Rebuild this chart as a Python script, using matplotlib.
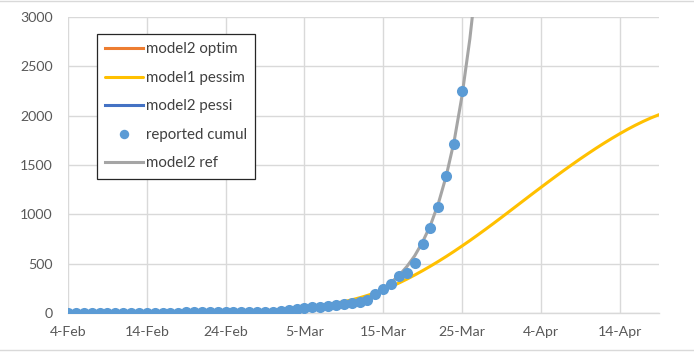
import matplotlib
matplotlib.use("Agg")
import matplotlib.pyplot as plt
import pandas as pd
from matplotlib.lines import Line2D

# ---------------- data ----------------
start_date = "2020-02-04"
end_date = "2020-04-19"

reported_cumul = [3] * 15 + [6] * 7 + [12] * 4 + [
    15, 20, 30, 45, 55, 60, 62, 70, 80, 92, 105, 115, 132, 190, 240, 291,
    375, 402, 503, 700, 865, 1071, 1392, 1710, 2250]

model1_pessim = [1, 1, 1, 1, 1, 1, 1, 1, 2, 2, 2, 2, 3, 3, 4, 4, 5, 6, 7, 8,
                 9, 11, 13, 16, 19, 23, 27, 32, 38, 45, 53, 62, 73, 85, 99,
                 115, 133, 154, 178, 205, 235, 268, 304, 343, 385, 429, 475,
                 523, 573, 625, 679, 734, 791, 849, 908, 968, 1029, 1090,
                 1151, 1212, 1272, 1332, 1391, 1449, 1506, 1562, 1616, 1669,
                 1720, 1769, 1816, 1861, 1903, 1942, 1978, 2010]

model2_ref = [1, 1, 1, 1, 1, 2, 2, 2, 2, 3, 3, 3, 4, 4, 5, 5, 6, 7, 8, 9,
              10, 11, 13, 15, 17, 20, 23, 27, 31, 36, 41, 47, 54, 62, 72, 84,
              100, 122, 150, 190, 245, 310, 380, 470, 580, 720, 890, 1110,
              1390, 1740, 2200, 2780, 3500]

model2_optim = []
model2_pessi = []

tick_labels = ["4-Feb", "14-Feb", "24-Feb", "5-Mar", "15-Mar", "25-Mar",
               "4-Apr", "14-Apr"]
y_ticks = [0, 500, 1000, 1500, 2000, 2500, 3000]

# ---------------- figure ----------------
W, H = 694, 363
fig = plt.figure(figsize=(W / 100, H / 100), dpi=100)
ax = fig.add_axes([68 / W, (H - 313) / H, (659 - 68) / W, 296 / H])

FONT = "Lato"
tick_color = "#595959"

def dates(n):
    return pd.date_range(start_date, periods=n, freq="D")

l_optim, = ax.plot(dates(len(model2_optim)), model2_optim, color="#ED7D31",
                   lw=2.2, label="model2 optim")
l_pessim, = ax.plot(dates(len(model1_pessim)), model1_pessim, color="#FFC000",
                    lw=2.2, label="model1 pessim", solid_capstyle="round")
l_pessi, = ax.plot(dates(len(model2_pessi)), model2_pessi, color="#4472C4",
                   lw=2.2, label="model2 pessi")
l_ref, = ax.plot(dates(len(model2_ref)), model2_ref, color="#A5A5A5",
                 lw=2.2, label="model2 ref")
l_rep, = ax.plot(dates(len(reported_cumul)), reported_cumul, ls="none",
                 marker="o", markersize=8.0, color="#5B9BD5",
                 markeredgewidth=0, label="reported cumul", zorder=5)

ax.set_xlim(pd.Timestamp(start_date), pd.Timestamp(end_date))
ax.set_ylim(0, 3000)

tick_pos = pd.to_datetime([t + "-2020" for t in tick_labels], format="%d-%b-%Y")
ax.set_xticks(tick_pos)
ax.set_xticklabels(tick_labels)
ax.set_yticks(y_ticks)
ax.set_yticklabels([str(v) for v in y_ticks])

for lab in ax.get_xticklabels() + ax.get_yticklabels():
    lab.set_fontfamily(FONT)
    lab.set_fontsize(10.2)
    lab.set_color(tick_color)

ax.tick_params(axis="both", length=0)
ax.tick_params(axis="x", pad=9)
ax.tick_params(axis="y", pad=11)

ax.grid(True, color="#d9d9d9", lw=1.0)
ax.set_axisbelow(True)
for s in ["top", "right", "left"]:
    ax.spines[s].set_visible(False)
ax.spines["bottom"].set_color("#d9d9d9")
ax.spines["bottom"].set_linewidth(1.0)

leg = ax.legend(handles=[l_optim, l_pessim, l_pessi, l_rep, l_ref],
                loc="upper left",
                bbox_to_anchor=(97 / W, 1 - 34 / H),
                bbox_transform=fig.transFigure,
                prop={"family": FONT, "size": 10.8},
                frameon=True, fancybox=False, framealpha=1,
                edgecolor="#262626", borderpad=0.55, labelspacing=0.97,
                handlelength=2.5, handletextpad=0.2, markerscale=0.85,
                borderaxespad=0)
leg.get_frame().set_linewidth(0.9)
for t in leg.get_texts():
    t.set_color("#404040")

# chart area border (top and bottom visible in reference)
fig.add_artist(Line2D([0, 1], [1 - 1 / H, 1 - 1 / H], transform=fig.transFigure,
                      color="#d9d9d9", lw=1))
fig.add_artist(Line2D([0, 1], [(H - 350) / H, (H - 350) / H],
                      transform=fig.transFigure, color="#d9d9d9", lw=1))

fig.savefig("out.png", dpi=100)
